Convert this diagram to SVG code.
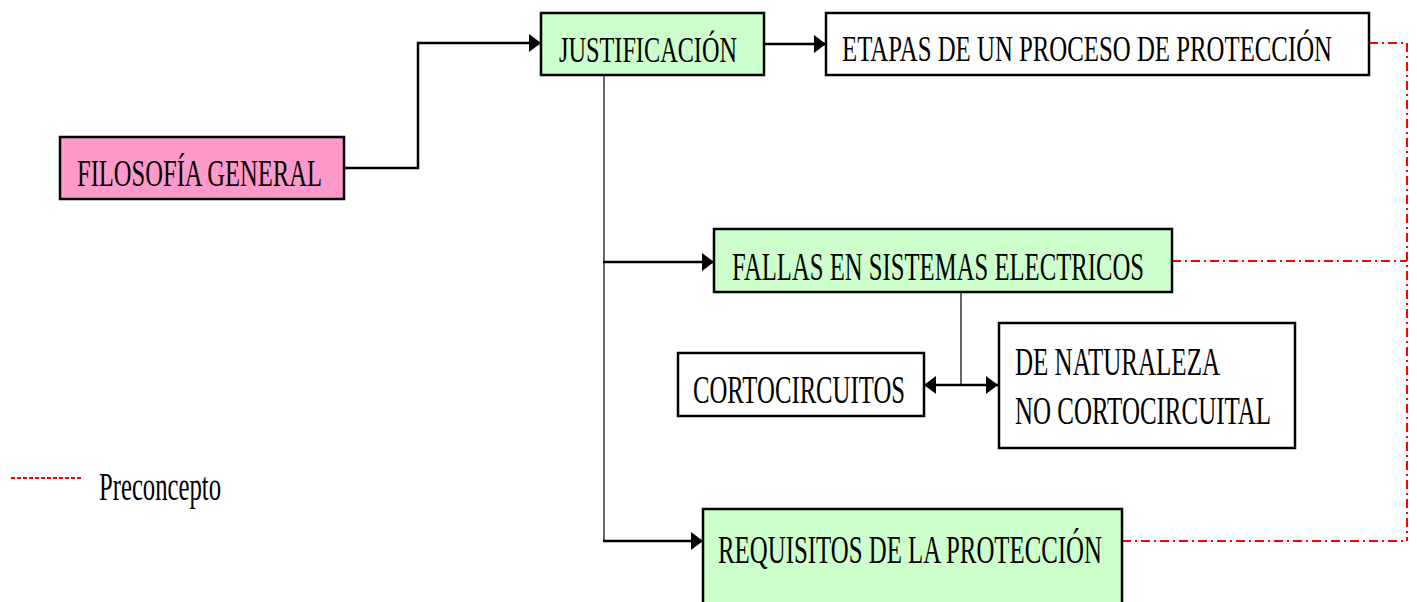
<svg xmlns="http://www.w3.org/2000/svg" width="1417" height="602" viewBox="0 0 1417 602">
<style>
.box{stroke:#000;stroke-width:2.5}
.pink{fill:#FF99CC}
.green{fill:#CCFFCC}
.white{fill:#FFFFFF}
.t{font-family:"Liberation Serif","Times New Roman",serif;fill:#000}
.thick{fill:none;stroke:#000;stroke-width:2.5}
.thin{fill:none;stroke:#000;stroke-width:1.2}
.red{fill:none;stroke:#FF0000;stroke-width:2;stroke-dasharray:9 4 2 4}
.redleg{fill:none;stroke:#FF0000;stroke-width:2;stroke-dasharray:4 2}
</style>
<defs>
<marker id="ah" markerUnits="userSpaceOnUse" markerWidth="14" markerHeight="18" refX="12" refY="9" orient="auto">
<path d="M0,0 L12,9 L0,18 Z" fill="#000"/>
</marker>
<marker id="ahs" markerUnits="userSpaceOnUse" markerWidth="14" markerHeight="18" refX="12" refY="9" orient="auto-start-reverse">
<path d="M0,0 L12,9 L0,18 Z" fill="#000"/>
</marker>
</defs>
<rect width="1417" height="602" fill="#FFFFFF"/>
<g id="connectors">
<polyline class="thick" points="344,168 418,168 418,43 541,43" marker-end="url(#ah)"/>
<line class="thick" x1="764" y1="44" x2="826" y2="44" marker-end="url(#ah)"/>
<line class="thin" x1="604" y1="75" x2="604" y2="541"/>
<line class="thick" x1="603" y1="262" x2="714" y2="262" marker-end="url(#ah)"/>
<line class="thick" x1="603" y1="541" x2="703" y2="541" marker-end="url(#ah)"/>
<line class="thin" x1="961" y1="292" x2="961" y2="385"/>
<line class="thick" x1="924" y1="385" x2="998" y2="385" marker-start="url(#ahs)" marker-end="url(#ah)"/>
<polyline class="red" points="1369,43 1407,43 1407,541"/>
<line class="red" x1="1172" y1="261" x2="1407" y2="261"/>
<line class="red" x1="1122" y1="541" x2="1407" y2="541"/>
</g>
<g id="filosofia">
<rect class="box pink" x="60" y="137" width="284" height="62"/>
<text class="t" x="77" y="186" font-size="37" textLength="245" lengthAdjust="spacingAndGlyphs">FILOSOFÍA GENERAL</text>
</g>
<g id="justificacion">
<rect class="box green" x="541" y="13" width="223" height="62"/>
<text class="t" x="559" y="62" font-size="36" textLength="178" lengthAdjust="spacingAndGlyphs">JUSTIFICACIÓN</text>
</g>
<g id="etapas">
<rect class="box white" x="826" y="13" width="543" height="62"/>
<text class="t" x="842" y="61" font-size="36" textLength="490" lengthAdjust="spacingAndGlyphs">ETAPAS DE UN PROCESO DE PROTECCIÓN</text>
</g>
<g id="fallas">
<rect class="box green" x="714" y="229" width="458" height="63"/>
<text class="t" x="732" y="280" font-size="40" textLength="412" lengthAdjust="spacingAndGlyphs">FALLAS EN SISTEMAS ELECTRICOS</text>
</g>
<g id="cortocircuitos">
<rect class="box white" x="678" y="353" width="246" height="63"/>
<text class="t" x="693" y="403" font-size="39" textLength="212" lengthAdjust="spacingAndGlyphs">CORTOCIRCUITOS</text>
</g>
<g id="naturaleza">
<rect class="box white" x="999" y="323" width="296" height="125"/>
<text class="t" x="1015" y="375" font-size="40" textLength="205" lengthAdjust="spacingAndGlyphs">DE NATURALEZA</text>
<text class="t" x="1015" y="424" font-size="40" textLength="256" lengthAdjust="spacingAndGlyphs">NO CORTOCIRCUITAL</text>
</g>
<g id="requisitos">
<rect class="box green" x="703" y="509" width="419" height="100"/>
<text class="t" x="718" y="563" font-size="40" textLength="384" lengthAdjust="spacingAndGlyphs">REQUISITOS DE LA PROTECCIÓN</text>
</g>
<g id="legend">
<line class="redleg" x1="11" y1="478" x2="81" y2="478"/>
<text class="t" x="99" y="500" font-size="40" textLength="122" lengthAdjust="spacingAndGlyphs">Preconcepto</text>
</g>
</svg>
